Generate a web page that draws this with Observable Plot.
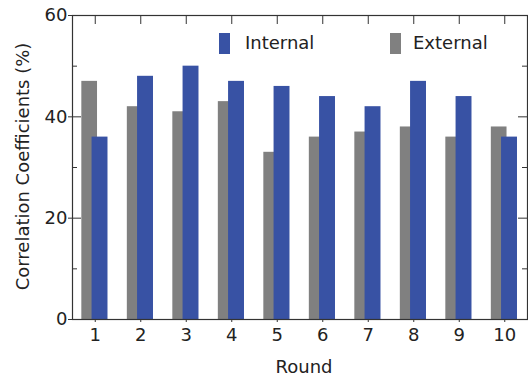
<!DOCTYPE html>
<html>
<head>
<meta charset="utf-8">
<script src="https://cdn.jsdelivr.net/npm/d3@7"></script>
<script src="https://cdn.jsdelivr.net/npm/@observablehq/plot@0.6"></script>
<style>
  html, body { margin: 0; padding: 0; background: #fff; }
  #chart { position: relative; width: 528px; height: 377px; font-family: "DejaVu Sans", sans-serif; }
  .legend-item { position: absolute; display: flex; align-items: flex-start; font-size: 18px; color: #222; line-height: 21px; }
  .swatch { display: inline-block; width: 11px; height: 21px; margin-top: 1px; }
</style>
</head>
<body>
<div id="chart"></div>
<script>
// Correlation coefficients (%) per round, internal vs external
const rounds = [1, 2, 3, 4, 5, 6, 7, 8, 9, 10];
const internal = [36, 48, 50, 47, 46, 44, 42, 47, 44, 36];
const external = [47, 42, 41, 43, 33, 36, 37, 38, 36, 38];
const yMajorTicks = [0, 20, 40, 60];
const yMinorTicks = [10, 30, 50];
const seriesNames = ["Internal", "External"];
const seriesColors = ["#3852a4", "#808080"];

const table = rounds.map((r, i) => ({round: r, internal: internal[i], external: external[i]}));

const W = 528, H = 377;
const mL = 72, mR = 1, mT = 15, mB = 58;
const fw = W - mL - mR;   // frame width
const fh = H - mT - mB;   // frame height
const ink = "#333";

const chart = Plot.plot({
  width: W,
  height: H,
  marginLeft: mL,
  marginRight: mR,
  marginTop: mT,
  marginBottom: mB,
  style: {fontFamily: "DejaVu Sans, sans-serif", fontSize: "18px", color: "#222", background: "#fff"},
  x: {type: "linear", domain: [0.5, 10.5]},
  y: {domain: [0, 60]},
  marks: [
    // tick marks on all four sides
    Plot.ruleY(yMajorTicks, {y: d => d, stroke: ink, insetLeft: -4, insetRight: fw - 9}),
    Plot.ruleY(yMinorTicks, {y: d => d, stroke: ink, insetLeft: 0, insetRight: fw - 5}),
    Plot.ruleY(yMajorTicks, {y: d => d, stroke: ink, insetLeft: fw - 9, insetRight: 0}),
    Plot.ruleY(yMinorTicks, {y: d => d, stroke: ink, insetLeft: fw - 5, insetRight: 0}),
    Plot.ruleX(rounds, {x: d => d, stroke: ink, insetTop: 0, insetBottom: fh - 9}),
    Plot.ruleX(rounds, {x: d => d, stroke: ink, insetTop: fh - 9, insetBottom: -3}),
    // grouped bars: external behind, internal in front
    Plot.rectY(table, {x1: d => d.round - 0.295, x2: d => d.round + 0.05, y: "external", fill: seriesColors[1]}),
    Plot.rectY(table, {x1: d => d.round - 0.07, x2: d => d.round + 0.28, y: "internal", fill: seriesColors[0]}),
    Plot.frame({stroke: ink, strokeWidth: 1.2}),
    Plot.axisX({anchor: "bottom", ticks: rounds, tickSize: 0, tickPadding: 9, tickFormat: d => String(d), label: null, fontSize: 18}),
    Plot.axisY({anchor: "left", ticks: yMajorTicks, tickSize: 0, tickPadding: 5, label: null, fontSize: 18}),
    Plot.text(["Round"], {frameAnchor: "bottom", text: d => d, textAnchor: "middle", dx: 4, dy: 48, lineAnchor: "middle", fontSize: 18, fill: "#222"}),
    Plot.text(["Correlation Coefficients (%)"], {frameAnchor: "left", text: d => d, textAnchor: "middle", rotate: -90, dx: -49, dy: -1, lineAnchor: "middle", fontSize: 18, fill: "#222"})
  ]
});

const root = document.getElementById("chart");
root.appendChild(chart);

// legend overlaid in the upper part of the plot area
const legendPos = [{left: 219, top: 32}, {left: 390, top: 32}];
seriesNames.forEach((name, i) => {
  const item = document.createElement("div");
  item.className = "legend-item";
  item.style.left = legendPos[i].left + "px";
  item.style.top = legendPos[i].top + "px";
  const sw = document.createElement("span");
  sw.className = "swatch";
  sw.style.background = seriesColors[i];
  const label = document.createElement("span");
  label.textContent = name;
  label.style.marginLeft = (i === 0 ? 15 : 12) + "px";
  item.appendChild(sw);
  item.appendChild(label);
  root.appendChild(item);
});
</script>
</body>
</html>
